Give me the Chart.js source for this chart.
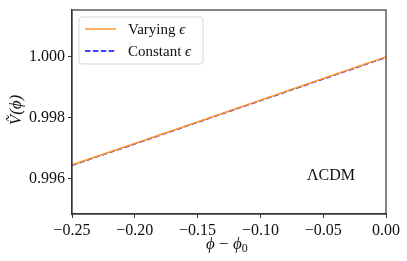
<!DOCTYPE html>
<html><head><meta charset="utf-8">
<script src="https://cdn.jsdelivr.net/npm/chart.js@4/dist/chart.umd.min.js"></script>
<style>html,body{margin:0;padding:0;background:#fff;}#wrap{width:407px;height:261px;}</style>
</head><body><div id="wrap"><canvas id="c" width="407" height="261"></canvas></div>
<script>
const phi = [-0.25, -0.20, -0.15, -0.10, -0.05, 0.00];
const varyingEps = [0.99646, 0.99716, 0.99787, 0.99858, 0.99929, 1.00000];
const constantEps = [0.99645, 0.99715, 0.99786, 0.99857, 0.99928, 0.99999];
const xTicks = [-0.25, -0.20, -0.15, -0.10, -0.05, 0.00];
const yTicks = [0.996, 0.998, 1.000];
const seriesNames = ['Varying ϵ', 'Constant ϵ'];

const SERIF = '"Liberation Serif", "DejaVu Serif", serif';
const fmt = (v, d) => { let s = Math.abs(v) < 1e-12 ? (0).toFixed(d) : v.toFixed(d); return s.replace('-', '\u2212'); };

const deco = {
  id: 'deco',
  afterDraw(chart) {
    const ctx = chart.ctx, a = chart.chartArea;
    ctx.save();
    // frame
    ctx.strokeStyle = '#333'; ctx.lineWidth = 1.2;
    ctx.strokeRect(a.left, a.top, a.right - a.left, a.bottom - a.top);
    // legend
    const lx = 79, ly = 17, lw = 124, lh = 47, r = 3;
    ctx.beginPath();
    ctx.moveTo(lx + r, ly); ctx.lineTo(lx + lw - r, ly); ctx.quadraticCurveTo(lx + lw, ly, lx + lw, ly + r);
    ctx.lineTo(lx + lw, ly + lh - r); ctx.quadraticCurveTo(lx + lw, ly + lh, lx + lw - r, ly + lh);
    ctx.lineTo(lx + r, ly + lh); ctx.quadraticCurveTo(lx, ly + lh, lx, ly + lh - r);
    ctx.lineTo(lx, ly + r); ctx.quadraticCurveTo(lx, ly, lx + r, ly); ctx.closePath();
    ctx.fillStyle = 'rgba(255,255,255,0.8)'; ctx.fill();
    ctx.strokeStyle = '#d6d6d6'; ctx.lineWidth = 1; ctx.stroke();
    const rows = [29, 51];
    chart.data.datasets.forEach((ds, i) => {
      ctx.beginPath(); ctx.strokeStyle = ds.borderColor; ctx.lineWidth = 1.5;
      ctx.setLineDash(ds.borderDash || []);
      ctx.moveTo(85, rows[i]); ctx.lineTo(116, rows[i]); ctx.stroke();
      ctx.setLineDash([]);
      const parts = ds.label.split(' ');
      ctx.fillStyle = '#111'; ctx.textBaseline = 'middle'; ctx.textAlign = 'left';
      ctx.font = '15px ' + SERIF;
      ctx.fillText(parts[0] + ' ', 128, rows[i] + 1);
      const w = ctx.measureText(parts[0] + ' ').width;
      ctx.font = 'italic 15px ' + SERIF;
      ctx.fillText(parts[1], 128 + w, rows[i] + 1);
    });
    // annotation
    ctx.font = '16px ' + SERIF; ctx.fillStyle = '#111'; ctx.textAlign = 'left'; ctx.textBaseline = 'middle';
    ctx.fillText('\u039BCDM', 307, 176);
    // x title
    ctx.textBaseline = 'alphabetic';
    let x = 206, y = 249;
    ctx.font = 'italic 17px ' + SERIF; ctx.fillText('\u03D5', x, y); x += ctx.measureText('\u03D5').width;
    ctx.font = '17px ' + SERIF; ctx.fillText(' \u2212 ', x, y); x += ctx.measureText(' \u2212 ').width;
    ctx.font = 'italic 17px ' + SERIF; ctx.fillText('\u03D5', x, y); x += ctx.measureText('\u03D5').width;
    ctx.font = '12px ' + SERIF; ctx.fillText('0', x, y + 3);
    // y title
    ctx.translate(21, 110); ctx.rotate(-Math.PI / 2);
    ctx.textAlign = 'center';
    ctx.font = 'italic 17px ' + SERIF;
    ctx.fillText('V\u0303(\u03D5)', 0, 0);
    ctx.restore();
  }
};

new Chart(document.getElementById('c'), {
  type: 'line',
  data: {
    labels: phi,
    datasets: [
      { label: seriesNames[0], data: phi.map((p, i) => ({x: p, y: varyingEps[i]})), borderColor: '#ff9a2e', borderWidth: 1.6, pointRadius: 0, tension: 0, fill: false },
      { label: seriesNames[1], data: phi.map((p, i) => ({x: p, y: constantEps[i]})), borderColor: '#0000ff', borderWidth: 1.6, borderDash: [5.5, 2.4], pointRadius: 0, tension: 0, fill: false }
    ]
  },
  options: {
    responsive: false, animation: false,
    layout: { padding: { top: 10, right: 21, left: 0, bottom: 0 } },
    plugins: { legend: { display: false }, tooltip: { enabled: false } },
    scales: {
      x: {
        type: 'linear', min: -0.25, max: 0,
        afterBuildTicks: s => { s.ticks = xTicks.map(v => ({ value: v })); },
        afterFit: s => { s.height = 47; s.paddingLeft = 0; s.paddingRight = 0; },
        grid: { drawOnChartArea: false, drawTicks: true, tickLength: 4, color: '#333' },
        border: { display: true, color: '#333', width: 1.2 },
        ticks: { color: '#111', font: { family: SERIF, size: 16 }, padding: 3, maxRotation: 0, callback: v => fmt(v, 2) }
      },
      y: {
        type: 'linear', min: 0.99485, max: 1.00154,
        afterBuildTicks: s => { s.ticks = yTicks.map(v => ({ value: v })); },
        afterFit: s => { s.width = 72; s.paddingTop = 0; s.paddingBottom = 0; },
        grid: { drawOnChartArea: false, drawTicks: true, tickLength: 4, color: '#333' },
        border: { display: true, color: '#333', width: 1.2 },
        ticks: { color: '#111', font: { family: SERIF, size: 16 }, padding: 3, callback: v => fmt(v, 3) }
      }
    }
  },
  plugins: [deco]
});
</script></body></html>
